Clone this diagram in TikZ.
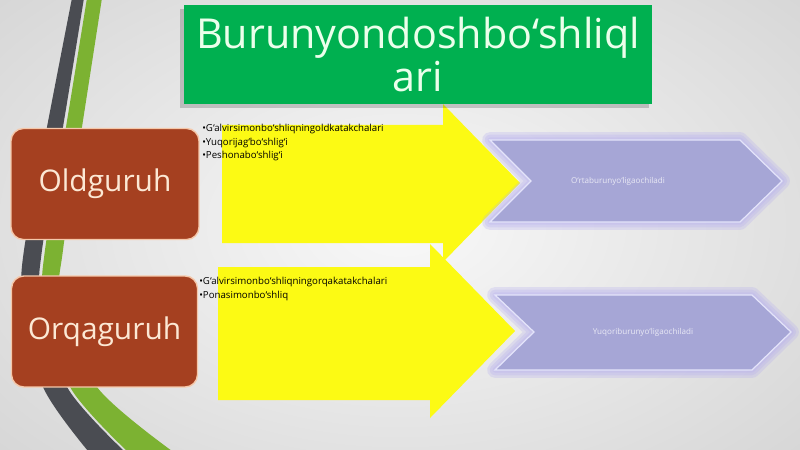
\documentclass[tikz,border=0pt]{standalone}
\usepackage{fontspec}
\setmainfont{Open Sans}
\usepackage{tikz}
\definecolor{titlegreen}{RGB}{0,176,80}
\definecolor{grpred}{RGB}{165,64,32}
\definecolor{grpedge}{RGB}{245,200,170}
\definecolor{grptext}{RGB}{252,232,212}
\definecolor{arrowyellow}{RGB}{252,250,20}
\definecolor{chevfill}{RGB}{166,166,214}
\definecolor{chevedge}{RGB}{228,228,250}
\definecolor{chevglow}{RGB}{185,178,238}
\definecolor{banddark}{RGB}{74,76,82}
\definecolor{bandgreen}{RGB}{124,178,50}
\tikzstyle{title} = [fill=titlegreen, text=white!92!green, minimum width=9.36cm, minimum height=1.98cm, align=center, inner sep=0pt, font={\fontsize{23.5}{24}\selectfont}]
\tikzstyle{grp} = [draw=grpedge, line width=0.8pt, fill=grpred, text=grptext, rounded corners=7pt, minimum height=2.22cm, font={\fontsize{17}{20}\selectfont}]
\tikzstyle{items} = [anchor=north west, align=left, inner sep=0pt, text=black, font={\fontsize{5.5}{6.2}\selectfont}]
\tikzstyle{goes} = [fill=arrowyellow]
\tikzstyle{chev} = [fill=chevfill, draw=chevedge, line width=0.7pt, line join=miter]
\tikzstyle{glow} = [draw=chevglow, line join=round, opacity=0.3]
\tikzstyle{where} = [text=white, opacity=0.75, inner sep=0pt, font={\fontsize{4.6}{6}\selectfont}]

\begin{document}
\begin{tikzpicture}[x=0.02cm, y=-0.02cm]
    \useasboundingbox (0,0) rectangle (800,449);
    \shade[inner color=white!95!gray, outer color=gray!32] (-150,-120) rectangle (950,570);
    \fill[banddark] plot[smooth] coordinates {(72,-2) (47,127) (24,250) (23,300) (43,387) (88,451)}
        -- plot[smooth] coordinates {(124,451) (67,387) (41,300) (42,250) (63,127) (84,-2)} -- cycle;
    \fill[bandgreen] plot[smooth] coordinates {(87,-2) (66,127) (45,250) (44,300) (70,387) (127,451)}
        -- plot[smooth] coordinates {(172,451) (97,387) (61,300) (63,250) (82,127) (102,-2)} -- cycle;
    \fill[goes] (222,125) -- (443,125) -- (443,104) -- (520,183) -- (443,262) -- (443,243) -- (222,243) -- cycle;
    \fill[goes] (218,267) -- (430,267) -- (430,244) -- (515,331) -- (430,418) -- (430,400) -- (218,400) -- cycle;
    \foreach \w in {9,6,3}{
        \draw[glow, line width=\w pt] (490,140) -- (740,140) -- (782,181) -- (740,222) -- (490,222) -- (531,181) -- cycle;
        \draw[glow, line width=\w pt] (495,295) -- (752,295) -- (791,332) -- (752,370) -- (495,370) -- (534,332) -- cycle;
    }
    \draw[chev] (490,140) -- (740,140) -- (782,181) -- (740,222) -- (490,222) -- (531,181) -- cycle;
    \draw[chev] (495,295) -- (752,295) -- (791,332) -- (752,370) -- (495,370) -- (534,332) -- cycle;
    \fill[black, opacity=0.18] (180,9) rectangle (649,108);
    \node[title](head) at (418,54.5){Burunyondoshbo‘shliql\\ari};
    \node[grp, minimum width=3.76cm](old) at (105,184){Oldguruh};
    \node[grp, minimum width=3.72cm](back) at (104.5,331.5){Orqaguruh};
    \node[items](oldlist) at (202,124){•G‘alvirsimonbo‘shliqningoldkatakchalari\\[1.4pt]•Yuqorijag‘bo‘shlig‘i\\[1.4pt]•Peshonabo‘shlig‘i};
    \node[items](backlist) at (199,277){•G‘alvirsimonbo‘shliqningorqakatakchalari\\[1.4pt]•Ponasimonbo‘shliq};
    \node[where](oldout) at (618,181){O‘rtaburunyo‘ligaochiladi};
    \node[where](backout) at (643,332){Yuqoriburunyo‘ligaochiladi};
  \end{tikzpicture}
\end{document}
